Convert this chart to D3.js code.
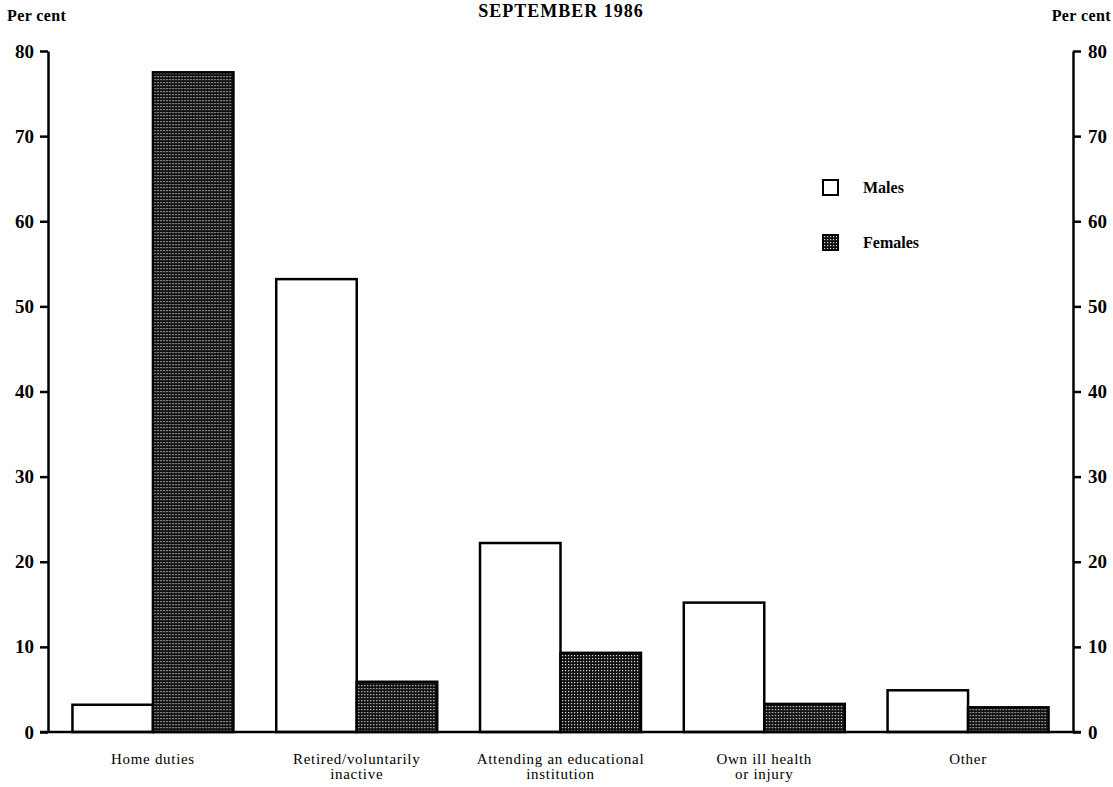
<!DOCTYPE html>
<html>
<head>
<meta charset="utf-8">
<script src="https://cdn.jsdelivr.net/npm/d3@7"></script>
<style>
  body { margin: 0; background: #fff; }
  svg { display: block; }
  text { fill: #000; }
</style>
</head>
<body>
<div id="chart"></div>
<script>
const categories = ["Home duties", "Retired/voluntarily inactive", "Attending an educational institution", "Own ill health or injury", "Other"];
const categoryLines = [["Home duties"], ["Retired/voluntarily", "inactive"], ["Attending an educational", "institution"], ["Own ill health", "or injury"], ["Other"]];
const series = ["Males", "Females"];
const males = [3.2, 53.2, 22.2, 15.2, 4.9];
const females = [77.5, 5.9, 9.3, 3.3, 2.9];
const yTicks = [0, 10, 20, 30, 40, 50, 60, 70, 80];

const W = 1113, H = 787;
const plotLeft = 48, plotRight = 1073, plotTop = 51, plotBottom = 732;
const serif = "'Liberation Serif', 'Times New Roman', serif";

const rows = categories.map((c, i) => ({ cat: c, lines: categoryLines[i], Males: males[i], Females: females[i] }));

const svg = d3.select("#chart").append("svg")
    .attr("width", W)
    .attr("height", H);

// stipple fill for females
const pat = svg.append("defs").append("pattern")
    .attr("id", "stipple")
    .attr("patternUnits", "userSpaceOnUse")
    .attr("width", 3)
    .attr("height", 3);
pat.append("rect").attr("width", 3).attr("height", 3).attr("fill", "#111");
pat.append("rect").attr("x", 1).attr("y", 1).attr("width", 1.2).attr("height", 1.2).attr("fill", "#d8d8d8");

const x0 = d3.scaleBand()
    .domain(categories)
    .range([plotLeft, plotRight])
    .paddingInner(0.21)
    .paddingOuter(0.12);

const x1 = d3.scaleBand()
    .domain(series)
    .range([0, x0.bandwidth()]);

const y = d3.scaleLinear()
    .domain([0, 80])
    .range([plotBottom, plotTop]);

// bars
const groups = svg.append("g").selectAll("g")
    .data(rows)
    .join("g")
    .attr("transform", d => `translate(${x0(d.cat)},0)`);

groups.selectAll("rect")
    .data(d => series.map(s => ({ key: s, value: d[s] })))
    .join("rect")
    .attr("x", d => x1(d.key))
    .attr("y", d => y(d.value))
    .attr("width", x1.bandwidth())
    .attr("height", d => y(0) - y(d.value))
    .attr("fill", d => d.key === "Males" ? "#fff" : "url(#stipple)")
    .attr("stroke", "#000")
    .attr("stroke-width", 2.5);

// baseline
svg.append("line")
    .attr("x1", plotLeft - 8).attr("x2", plotRight + 8)
    .attr("y1", y(0)).attr("y2", y(0))
    .attr("stroke", "#000")
    .attr("stroke-width", 2.5);

// Y axes
const leftAxis = svg.append("g")
    .attr("transform", `translate(${plotLeft},0)`)
    .call(d3.axisLeft(y).tickValues(yTicks).tickSize(8).tickSizeOuter(0).tickPadding(6));

const rightAxis = svg.append("g")
    .attr("transform", `translate(${plotRight},0)`)
    .call(d3.axisRight(y).tickValues(yTicks).tickSize(8).tickSizeOuter(0).tickPadding(7));

[leftAxis, rightAxis].forEach(a => {
    a.select(".domain").attr("stroke-width", 2.5);
    a.selectAll(".tick line").attr("stroke-width", 2.5);
    a.selectAll("text")
        .style("font-family", serif)
        .style("font-weight", "bold")
        .style("font-size", "19px");
});

// X labels
const xl = svg.append("g");
rows.forEach(d => {
    const t = xl.append("text")
        .attr("x", x0(d.cat) + x0.bandwidth() / 2)
        .attr("y", 764)
        .attr("text-anchor", "middle")
        .style("font-family", serif)
        .style("font-size", "15px")
        .style("letter-spacing", "0.7px");
    d.lines.forEach((ln, i) => {
        t.append("tspan")
            .attr("x", x0(d.cat) + x0.bandwidth() / 2)
            .attr("dy", i === 0 ? 0 : 15)
            .text(ln);
    });
});

// axis titles
svg.append("text")
    .attr("x", 7).attr("y", 21)
    .style("font-family", serif).style("font-weight", "bold").style("font-size", "16px")
    .style("letter-spacing", "0.4px")
    .text("Per cent");

svg.append("text")
    .attr("x", 1111).attr("y", 21)
    .attr("text-anchor", "end")
    .style("font-family", serif).style("font-weight", "bold").style("font-size", "16px")
    .style("letter-spacing", "0.4px")
    .text("Per cent");

// title
svg.append("text")
    .attr("x", 561).attr("y", 17)
    .attr("text-anchor", "middle")
    .style("font-family", serif).style("font-weight", "bold").style("font-size", "18px")
    .style("letter-spacing", "1px")
    .text("SEPTEMBER 1986");

// legend
const legend = svg.append("g").attr("transform", "translate(823,180)");
series.forEach((s, i) => {
    const g = legend.append("g").attr("transform", `translate(0,${i * 55})`);
    g.append("rect")
        .attr("width", 15).attr("height", 15)
        .attr("fill", s === "Males" ? "#fff" : "url(#stipple)")
        .attr("stroke", "#000")
        .attr("stroke-width", 2);
    g.append("text")
        .attr("x", 40).attr("y", 13)
        .style("font-family", serif).style("font-weight", "bold").style("font-size", "16px")
        .text(s);
});
</script>
</body>
</html>
